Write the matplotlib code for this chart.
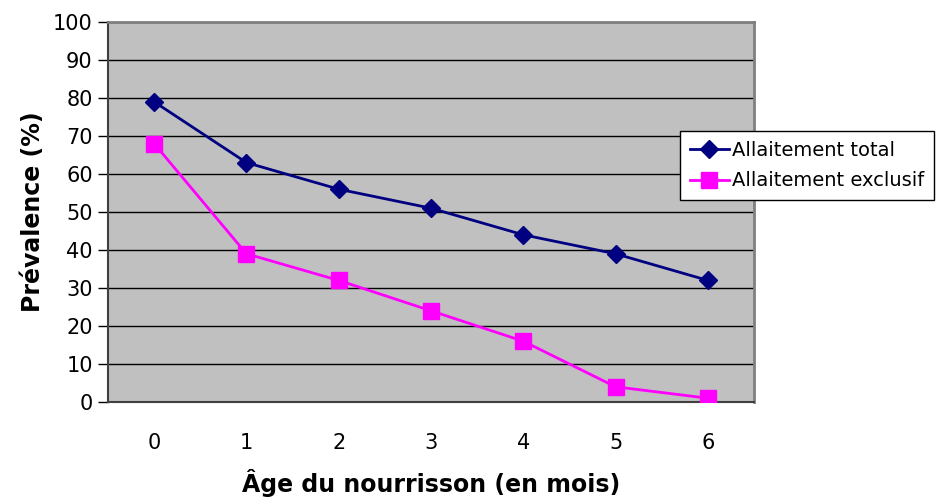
import numpy as np
import matplotlib.pyplot as plt

# Data
mois = [0, 1, 2, 3, 4, 5, 6]
allaitement_total = [79, 63, 56, 51, 44, 39, 32]
allaitement_exclusif = [68, 39, 32, 24, 16, 4, 1]

fig = plt.figure(figsize=(9.38, 4.99), dpi=100)
ax = fig.add_axes([108 / 938, 97 / 499, 646 / 938, 380 / 499])
ax.set_facecolor('#C0C0C0')

ax.plot(mois, allaitement_total, color='#000080', lw=2, marker='D',
        markersize=9, label='Allaitement total', zorder=3)
ax.plot(mois, allaitement_exclusif, color='#FF00FF', lw=2, marker='s',
        markersize=11, label='Allaitement exclusif', zorder=3)

ax.set_xlim(-0.5, 6.5)
ax.set_ylim(0, 100)
ax.set_yticks(np.arange(0, 101, 10))
ax.set_xticks(mois)
ax.yaxis.grid(True, color='black', lw=1)
ax.set_axisbelow(True)

ax.tick_params(axis='y', direction='out', length=7, width=1, labelsize=15, pad=4)
ax.tick_params(axis='x', length=0, labelsize=15, pad=22)

for side in ['top', 'right']:
    ax.spines[side].set_color('#808080')
    ax.spines[side].set_linewidth(2)
ax.spines['left'].set_color('#404040')
ax.spines['bottom'].set_color('#404040')
ax.spines['left'].set_linewidth(1.5)
ax.spines['bottom'].set_linewidth(1.5)

ax.set_ylabel('Prévalence (%)', fontsize=17, fontweight='bold', labelpad=6)
ax.set_xlabel('Âge du nourrisson (en mois)', fontsize=17, fontweight='bold', labelpad=12)

# legend box sits on the right edge of the plot area
leg = fig.legend(loc='upper left', bbox_to_anchor=(680 / 938, 1 - 131 / 499),
                 fontsize=14, frameon=True, fancybox=False, framealpha=1,
                 edgecolor='black', handlelength=2.0, borderpad=0.5,
                 labelspacing=0.6, handletextpad=0.15, borderaxespad=0)
leg.get_frame().set_linewidth(1)

fig.savefig('out.png', dpi=100)
